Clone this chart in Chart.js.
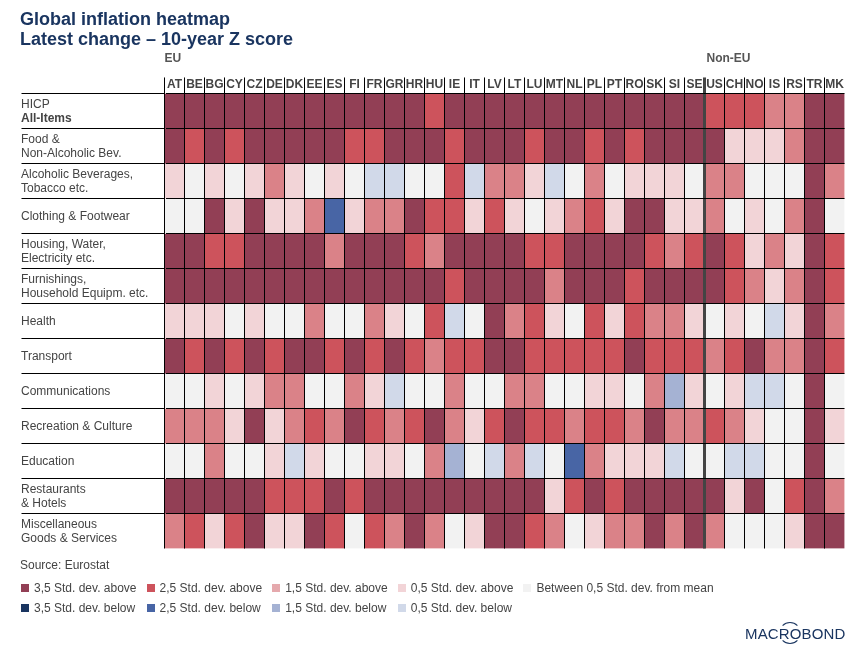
<!DOCTYPE html>
<html lang="en">
<head>
<meta charset="utf-8">
<title>Global inflation heatmap</title>
<script src="https://cdn.jsdelivr.net/npm/chart.js@4"></script>
<style>
    body { margin: 0; background: #fff; font-family: "Liberation Sans", Arial, sans-serif; color: #444; }
    #pagina { position: relative; width: 865px; height: 654px; overflow: hidden; }
    canvas { position: absolute; left: 0; top: 0; }
    #fonte { position: absolute; left: 20px; top: 558px; font-size: 12px; line-height: 14px; }
    .item { position: absolute; font-size: 12px; line-height: 14px; white-space: nowrap; padding-left: 13px; }
    .item i { position: absolute; left: 0; top: 3px; width: 8px; height: 8px; }
    #logo { position: absolute; left: 745px; top: 625px; font-size: 15px; line-height: 18px; letter-spacing: 0.15px; color: #1a3560; }
    #anel { position: absolute; left: 779px; top: 622px; width: 22px; height: 22px; box-sizing: border-box;
        border: 1px solid transparent; border-top-color: #1a3560; border-bottom-color: #1a3560; border-radius: 50%; }
</style>
</head>
<body>
<div id="pagina">
    <canvas id="grafico" width="865" height="654"></canvas>
    <div id="fonte">Source: Eurostat</div>
    <div id="legenda"></div>
    <div id="logo">MACROBOND</div>
    <div id="anel"></div>
</div>
<script>
// Countries along the top (first 27 EU, the rest non-EU)
const countries = ['AT','BE','BG','CY','CZ','DE','DK','EE','ES','FI','FR','GR','HR','HU','IE','IT','LV','LT','LU','MT','NL','PL','PT','RO','SK','SI','SE','US','CH','NO','IS','RS','TR','MK'];
const euCount = 27;

// Row labels, one array per line
const rowLabels = [
    ['HICP', ''],
    ['Food &', 'Non-Alcoholic Bev.'],
    ['Alcoholic Beverages,', 'Tobacco etc.'],
    'Clothing & Footwear',
    ['Housing, Water,', 'Electricity etc.'],
    ['Furnishings,', 'Household Equipm. etc.'],
    'Health',
    'Transport',
    'Communications',
    'Recreation & Culture',
    'Education',
    ['Restaurants', '& Hotels'],
    ['Miscellaneous', 'Goods & Services']
];

// Z score band of each cell
const hicp =          [3.5,3.5,3.5,3.5,3.5,3.5,3.5,3.5,3.5,3.5,3.5,3.5,3.5,2.5,3.5,3.5,3.5,3.5,3.5,3.5,3.5,3.5,3.5,3.5,3.5,3.5,3.5,2.5,2.5,2.5,1.5,1.5,3.5,3.5];
const food =          [3.5,2.5,3.5,2.5,3.5,3.5,3.5,3.5,3.5,2.5,2.5,3.5,3.5,3.5,2.5,3.5,3.5,3.5,2.5,3.5,3.5,2.5,3.5,2.5,3.5,3.5,3.5,3.5,0.5,0.5,0.5,1.5,3.5,3.5];
const alcohol =       [0.5,0,0.5,0,0.5,1.5,0.5,0,0.5,0,-0.5,-0.5,0,0,2.5,-0.5,1.5,1.5,0.5,-0.5,0,1.5,0,0.5,0.5,0.5,0,1.5,1.5,0,0,0,3.5,1.5];
const clothing =      [0,0,3.5,0.5,3.5,0.5,0.5,1.5,-2.5,0.5,1.5,1.5,3.5,2.5,2.5,0.5,2.5,0.5,0,0.5,1.5,2.5,0.5,3.5,3.5,0.5,0.5,1.5,0,0.5,0,1.5,3.5,0];
const housing =       [3.5,3.5,2.5,2.5,3.5,3.5,3.5,3.5,1.5,3.5,3.5,3.5,2.5,1.5,3.5,3.5,3.5,3.5,2.5,2.5,3.5,3.5,3.5,3.5,2.5,1.5,2.5,3.5,2.5,0.5,1.5,0.5,3.5,2.5];
const furnishings =   [3.5,3.5,3.5,3.5,3.5,3.5,3.5,3.5,3.5,3.5,3.5,3.5,3.5,3.5,2.5,3.5,3.5,3.5,3.5,1.5,3.5,3.5,3.5,2.5,3.5,3.5,3.5,3.5,2.5,1.5,0.5,1.5,3.5,2.5];
const health =        [0.5,0.5,0.5,0,0.5,0,0,1.5,0,0,1.5,0.5,0,2.5,-0.5,0,3.5,1.5,2.5,0.5,0,2.5,0.5,2.5,1.5,1.5,0.5,0,0.5,0,-0.5,0.5,3.5,1.5];
const transport =     [3.5,2.5,3.5,2.5,3.5,2.5,3.5,3.5,2.5,3.5,2.5,3.5,2.5,1.5,2.5,2.5,3.5,3.5,2.5,2.5,2.5,2.5,2.5,3.5,2.5,2.5,2.5,1.5,2.5,3.5,1.5,1.5,3.5,2.5];
const communications = [0,0,0.5,0,0.5,1.5,1.5,0,0,1.5,0.5,-0.5,0,0,1.5,0,0,1.5,1.5,0,0,0.5,0.5,0,1.5,-1.5,0.5,0,0.5,-0.5,-0.5,0,3.5,0];
const recreation =    [1.5,1.5,1.5,0.5,3.5,0.5,1.5,2.5,1.5,3.5,2.5,1.5,2.5,3.5,1.5,0.5,2.5,3.5,2.5,2.5,1.5,2.5,2.5,1.5,3.5,1.5,1.5,2.5,1.5,0.5,0,0,3.5,0.5];
const education =     [0,0,1.5,0,0,0.5,-0.5,0.5,0,0,0.5,0.5,0,1.5,-1.5,0,-0.5,1.5,-0.5,0,-2.5,1.5,0.5,0.5,0.5,-0.5,0,0,-0.5,-0.5,0,0,3.5,0];
const restaurants =   [3.5,3.5,3.5,3.5,3.5,2.5,2.5,2.5,3.5,2.5,3.5,3.5,3.5,3.5,3.5,3.5,3.5,3.5,3.5,0.5,2.5,3.5,2.5,3.5,3.5,3.5,3.5,3.5,0.5,3.5,0,2.5,3.5,1.5];
const miscellaneous = [1.5,2.5,0.5,2.5,3.5,0.5,0.5,3.5,2.5,0,2.5,1.5,3.5,1.5,0,0.5,3.5,3.5,2.5,1.5,0,0.5,1.5,1.5,3.5,1.5,3.5,1.5,0,0,0,0.5,3.5,3.5];
const rows = [hicp, food, alcohol, clothing, housing, furnishings, health, transport, communications, recreation, education, restaurants, miscellaneous];

// Legend bands, in the order they appear
const legendTexts = ['3,5 Std. dev. above','2,5 Std. dev. above','1,5 Std. dev. above','0,5 Std. dev. above','Between 0,5 Std. dev. from mean','3,5 Std. dev. below','2,5 Std. dev. below','1,5 Std. dev. below','0,5 Std. dev. below'];
const legendBands = [3.5, 2.5, 1.5, 0.5, 0, -3.5, -2.5, -1.5, -0.5];

// Colour of each band
function corDaFaixa(z) {
    if (z === 3.5) return '#923f55';
    if (z === 2.5) return '#cd535c';
    if (z === 1.5) return '#da8288';
    if (z === 0.5) return '#f2d4d7';
    if (z === -0.5) return '#d1d9e9';
    if (z === -1.5) return '#a5b2d3';
    if (z === -2.5) return '#4865a5';
    if (z === -3.5) return '#1a3560';
    return '#f2f2f2';
}

// Every row is one stacked dataset, one unit tall, coloured by its z scores
const datasets = rows.map((row, i) => ({
    label: rowLabels[i].toString(),
    data: row.map(() => 1),
    zScores: row,
    backgroundColor: row.map(corDaFaixa),
    borderWidth: 0,
    barPercentage: 1,
    categoryPercentage: 1
}));

// EU / Non-EU captions and the bold second line of the first row
const textosExtras = {
    id: 'textosExtras',
    afterLayout(chart) {
        chart.scales.rows.left = 21; // row labels sit 1px right of the title
    },
    afterDraw(chart) {
        const ctx = chart.ctx;
        const x = chart.scales.x;
        const rowScale = chart.scales.rows;
        ctx.save();
        ctx.fillStyle = '#555';
        ctx.textAlign = 'left';
        ctx.textBaseline = 'middle';
        ctx.font = 'bold 12px "Liberation Sans", Arial';
        ctx.fillText('EU', x.getPixelForValue(0) - 10, 58.5);
        ctx.fillText('Non-EU', x.getPixelForValue(euCount) - 8, 58.5);
        ctx.fillStyle = '#444';
        ctx.fillText('All-Items', rowScale.left, rowScale.getPixelForTick(0) + 8);
        ctx.restore();
    }
};

new Chart(document.getElementById('grafico'), {
    type: 'bar',
    data: { labels: countries, datasets: datasets },
    plugins: [textosExtras],
    options: {
        responsive: false,
        animation: false,
        layout: { padding: { left: 20, right: 20.5, bottom: 105.5 } },
        plugins: {
            legend: { display: false },
            tooltip: {
                callbacks: {
                    label: item => item.dataset.label + ': ' + item.dataset.zScores[item.dataIndex]
                }
            },
            title: {
                display: true,
                align: 'start',
                text: ['Global inflation heatmap', 'Latest change – 10-year Z score'],
                color: '#1a3560',
                font: { family: '"Liberation Sans", Arial', size: 18, weight: 'bold', lineHeight: 1.11 },
                padding: { top: 10, bottom: 27.5 }
            }
        },
        scales: {
            x: {
                position: 'top',
                stacked: true,
                offset: true,
                afterFit: scale => { scale.height = 16; },
                border: { display: false },
                grid: {
                    offset: true,
                    z: 1,
                    tickLength: 16,
                    color: c => !c.tick ? 'transparent' : (c.index === euCount ? '#444' : '#000'),
                    lineWidth: c => c.index === euCount ? 3 : 1,
                    tickColor: c => !c.tick ? 'transparent' : (c.index === euCount ? '#444' : '#000'),
                    tickWidth: c => c.index === euCount ? 3 : 1
                },
                ticks: {
                    autoSkip: false,
                    maxRotation: 0,
                    padding: -14,
                    color: '#444',
                    font: { family: '"Liberation Sans", Arial', size: 12, weight: 'bold' }
                }
            },
            y: { display: false, stacked: true, min: 0, max: 13, reverse: true },
            rows: {
                type: 'category',
                position: 'left',
                labels: rowLabels,
                offset: true,
                afterFit: scale => { scale.width = 144.5; },
                border: { display: true, color: '#fff', width: 2 },
                grid: {
                    offset: true,
                    z: 1,
                    tickLength: 143,
                    color: c => c.tick ? '#000' : 'transparent',
                    tickColor: c => c.tick ? '#000' : 'transparent'
                },
                ticks: {
                    crossAlign: 'far',
                    autoSkip: false,
                    labelOffset: 1,
                    color: '#444',
                    font: { family: '"Liberation Sans", Arial', size: 12, lineHeight: 1.17 }
                }
            }
        }
    }
});

// Legend in two rows with fixed columns
const legenda = document.getElementById('legenda');
legendTexts.forEach((texto, i) => {
    const item = document.createElement('div');
    item.className = 'item';
    const coluna = i < 5 ? i : i - 5;
    const cor = legendBands[i] === 1.5 ? '#e5a9ad' : corDaFaixa(legendBands[i]); // the legend's 1,5 swatch is lighter than the cells
    item.style.left = (21 + coluna * 125.6) + 'px';
    item.style.top = (i < 5 ? 581 : 601) + 'px';
    item.innerHTML = '<i style="background:' + cor + '"></i>' + texto;
    legenda.appendChild(item);
});
</script>
</body>
</html>
